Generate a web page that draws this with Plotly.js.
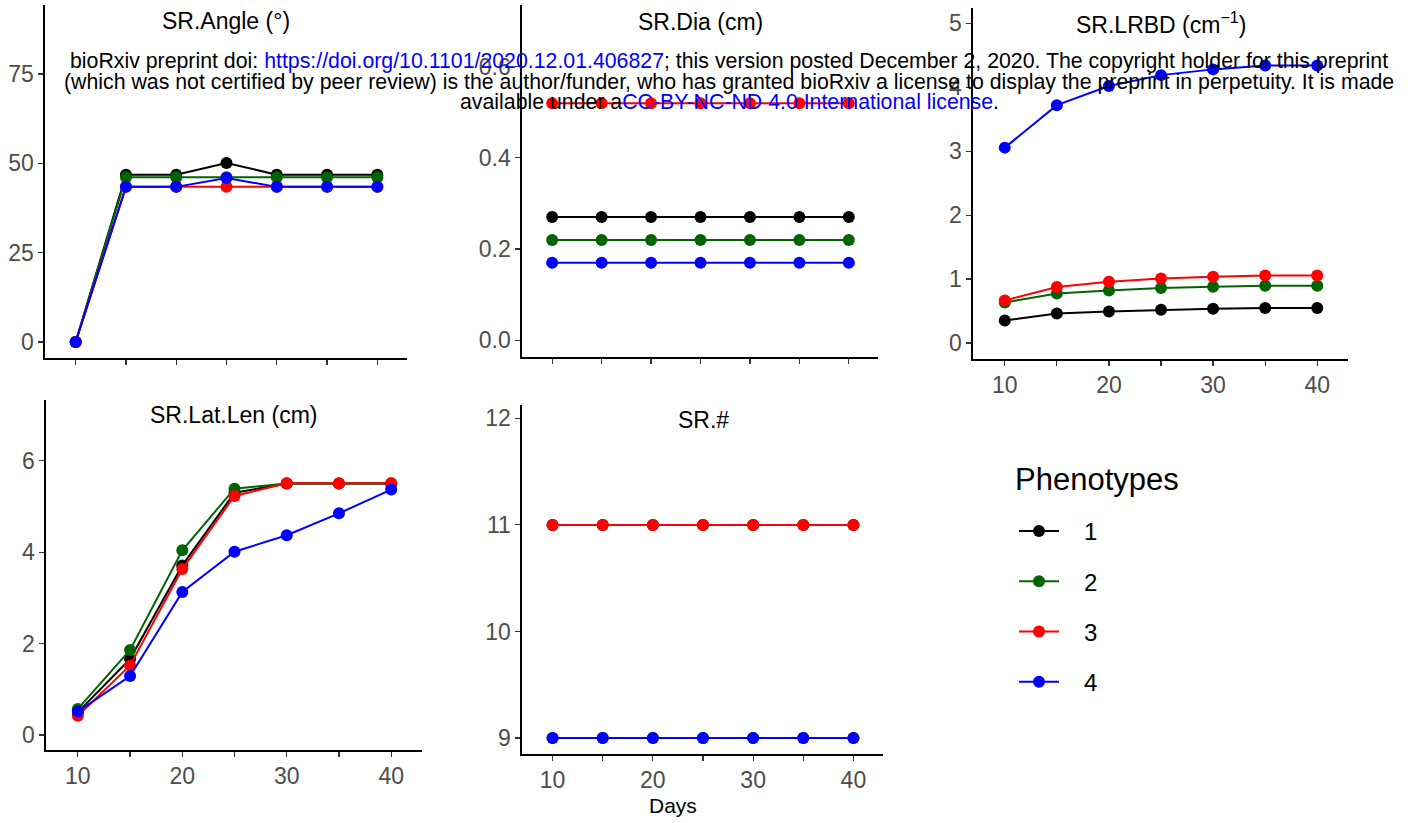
<!DOCTYPE html>
<html>
<head>
<meta charset="utf-8">
<script src="https://cdn.plot.ly/plotly-3.0.1.min.js"></script>
<style>html,body{margin:0;padding:0;background:#fff;}#plot{width:1417px;height:823px;}</style>
</head>
<body>
<div id="plot"></div>
<script>
const days = [10, 15, 20, 25, 30, 35, 40];
const phenotypes = ['1', '2', '3', '4'];
const colors = ['#000000', '#006400', '#FF0000', '#0000FF'];

// SR.Angle (°)
const angle1 = [0, 46.8, 46.8, 50.1, 46.8, 46.8, 46.8];
const angle2 = [0, 46.1, 46.1, 46.1, 46.1, 46.1, 46.1];
const angle3 = [0, 43.4, 43.4, 43.4, 43.4, 43.4, 43.4];
const angle4 = [0, 43.4, 43.4, 45.9, 43.4, 43.4, 43.4];
// SR.Dia (cm)
const dia1 = [0.27, 0.27, 0.27, 0.27, 0.27, 0.27, 0.27];
const dia2 = [0.22, 0.22, 0.22, 0.22, 0.22, 0.22, 0.22];
const dia3 = [0.52, 0.52, 0.52, 0.52, 0.52, 0.52, 0.52];
const dia4 = [0.17, 0.17, 0.17, 0.17, 0.17, 0.17, 0.17];
// SR.LRBD (cm^-1)
const lrbd1 = [0.353, 0.463, 0.494, 0.52, 0.536, 0.547, 0.547];
const lrbd2 = [0.634, 0.775, 0.82, 0.859, 0.88, 0.895, 0.895];
const lrbd3 = [0.666, 0.875, 0.958, 1.01, 1.036, 1.057, 1.057];
const lrbd4 = [3.056, 3.72, 4.02, 4.19, 4.28, 4.34, 4.34];
// SR.Lat.Len (cm)
const latlen1 = [0.5, 1.66, 3.71, 5.3, 5.5, 5.5, 5.5];
const latlen2 = [0.57, 1.86, 4.04, 5.39, 5.5, 5.5, 5.5];
const latlen3 = [0.42, 1.52, 3.63, 5.23, 5.51, 5.51, 5.51];
const latlen4 = [0.51, 1.29, 3.13, 4.01, 4.37, 4.85, 5.37];
// SR.#
const srnum1 = [11, 11, 11, 11, 11, 11, 11];
const srnum2 = [9, 9, 9, 9, 9, 9, 9];
const srnum3 = [11, 11, 11, 11, 11, 11, 11];
const srnum4 = [9, 9, 9, 9, 9, 9, 9];

const panelTitles = ['SR.Angle (°)', 'SR.Dia (cm)', 'SR.LRBD (cm<sup>−1</sup>)', 'SR.Lat.Len (cm)', 'SR.#'];
const xTickVals = [10, 15, 20, 25, 30, 35, 40];
const xTickText = ['10', '', '20', '', '30', '', '40'];
const legendTitle = 'Phenotypes';
const xAxisTitle = 'Days';

const panels = [
  {series: [angle1, angle2, angle3, angle4], ax: ''},
  {series: [dia1, dia2, dia3, dia4], ax: '2'},
  {series: [lrbd1, lrbd2, lrbd3, lrbd4], ax: '3'},
  {series: [latlen1, latlen2, latlen3, latlen4], ax: '4'},
  {series: [srnum1, srnum2, srnum3, srnum4], ax: '5'}
];

const NB = '\u00A0\u00A0\u00A0';
const traces = [];
panels.forEach((p, pi) => {
  p.series.forEach((ys, si) => {
    traces.push({
      x: days, y: ys, type: 'scatter', mode: 'lines+markers',
      xaxis: 'x' + p.ax, yaxis: 'y' + p.ax,
      name: NB + phenotypes[si], legendgroup: phenotypes[si],
      showlegend: pi === 4,
      line: {color: colors[si], width: 2},
      marker: {color: colors[si], size: 12},
      cliponaxis: false
    });
  });
});

const W = 1417, H = 823;
const fx = (a, b) => [a / W, b / W];
const fy = (top, bot) => [1 - bot / H, 1 - top / H];
const FONT = 'Liberation Sans, Arial, sans-serif';

function xa(domain, anchor, labels) {
  return {
    domain: domain, anchor: anchor, range: [6.95, 42.95],
    tickmode: 'array', tickvals: xTickVals, ticktext: xTickText,
    showticklabels: labels, ticks: 'outside', ticklen: 5, tickwidth: 1.2, tickcolor: '#333333',
    showline: true, linecolor: '#000000', linewidth: 1.6, showgrid: false, zeroline: false,
    tickfont: {family: FONT, size: 23, color: '#4d4d4d'}, fixedrange: true
  };
}
function ya(domain, anchor, range, tickvals, fmt) {
  return {
    domain: domain, anchor: anchor, range: range,
    tickmode: 'array', tickvals: tickvals, ticktext: tickvals.map(v => fmt ? v.toFixed(1) : String(v)),
    ticks: 'outside', ticklen: 5, tickwidth: 1.2, tickcolor: '#333333',
    showline: true, linecolor: '#000000', linewidth: 1.6, showgrid: false, zeroline: false,
    tickfont: {family: FONT, size: 23, color: '#4d4d4d'}, fixedrange: true
  };
}

const layout = {
  width: W, height: H,
  margin: {l: 0, r: 0, t: 0, b: 0},
  paper_bgcolor: '#ffffff', plot_bgcolor: 'rgba(0,0,0,0)',
  font: {family: FONT, color: '#000000'},
  showlegend: true,
  legend: {
    x: 1014 / W, y: 1 - 509 / H, xanchor: 'left', yanchor: 'top',
    font: {family: FONT, size: 24, color: '#000000'},
    tracegroupgap: 16, itemwidth: 40, bgcolor: 'rgba(0,0,0,0)', borderwidth: 0
  },
  xaxis: xa(fx(45, 407), 'y', false),
  yaxis: ya(fy(5, 358), 'x', [-4.5, 94.3], [0, 25, 50, 75], false),
  xaxis2: xa(fx(522, 878), 'y2', false),
  yaxis2: ya(fy(5, 357), 'x2', [-0.037, 0.7355], [0, 0.2, 0.4, 0.6], true),
  xaxis3: xa(fx(973, 1348), 'y3', true),
  yaxis3: ya(fy(8, 359), 'x3', [-0.25, 5.24], [0, 1, 2, 3, 4, 5], false),
  xaxis4: xa(fx(46, 422), 'y4', true),
  yaxis4: ya(fy(400, 750), 'x4', [-0.33, 7.33], [0, 2, 4, 6], false),
  xaxis5: xa(fx(522, 883), 'y5', true),
  yaxis5: ya(fy(405, 754), 'x5', [8.85, 12.125], [9, 10, 11, 12], false),
  annotations: []
};

const titlePos = [[226, 21], [700, 22], [1161, 23], [233, 415], [703, 420]];
panelTitles.forEach((t, i) => {
  layout.annotations.push({
    text: t, xref: 'paper', yref: 'paper', x: titlePos[i][0] / W, y: 1 - titlePos[i][1] / H,
    xanchor: 'center', yanchor: 'middle', showarrow: false,
    font: {family: FONT, size: 23, color: '#000000'}
  });
});
layout.annotations.push({
  text: xAxisTitle, xref: 'paper', yref: 'paper', x: 673 / W, y: 1 - 805 / H,
  xanchor: 'center', yanchor: 'middle', showarrow: false,
  font: {family: FONT, size: 21, color: '#000000'}
});
layout.annotations.push({
  text: legendTitle, xref: 'paper', yref: 'paper', x: 1013 / W, y: 1 - 479 / H,
  xanchor: 'left', yanchor: 'middle', showarrow: false,
  font: {family: FONT, size: 31, color: '#000000'}
});
const blue = s => '<span style="color:#0000FF">' + s + '</span>';
const wmLines = [
  'bioRxiv preprint doi: ' + blue('https://doi.org/10.1101/2020.12.01.406827') +
    '; this version posted December 2, 2020. The copyright holder for this preprint',
  '(which was not certified by peer review) is the author/funder, who has granted bioRxiv a license to display the preprint in perpetuity. It is made',
  'available under a' + blue('CC-BY-NC-ND 4.0 International license') + '.'
];
const wmY = [61, 81.5, 102];
wmLines.forEach((t, i) => {
  layout.annotations.push({
    text: t, xref: 'paper', yref: 'paper', x: 729 / W, y: 1 - wmY[i] / H,
    xanchor: 'center', yanchor: 'middle', align: 'center', showarrow: false,
    font: {family: FONT, size: 21.3, color: '#000000'}
  });
});

Plotly.newPlot('plot', traces, layout, {displayModeBar: false, staticPlot: true});
</script>
</body>
</html>
